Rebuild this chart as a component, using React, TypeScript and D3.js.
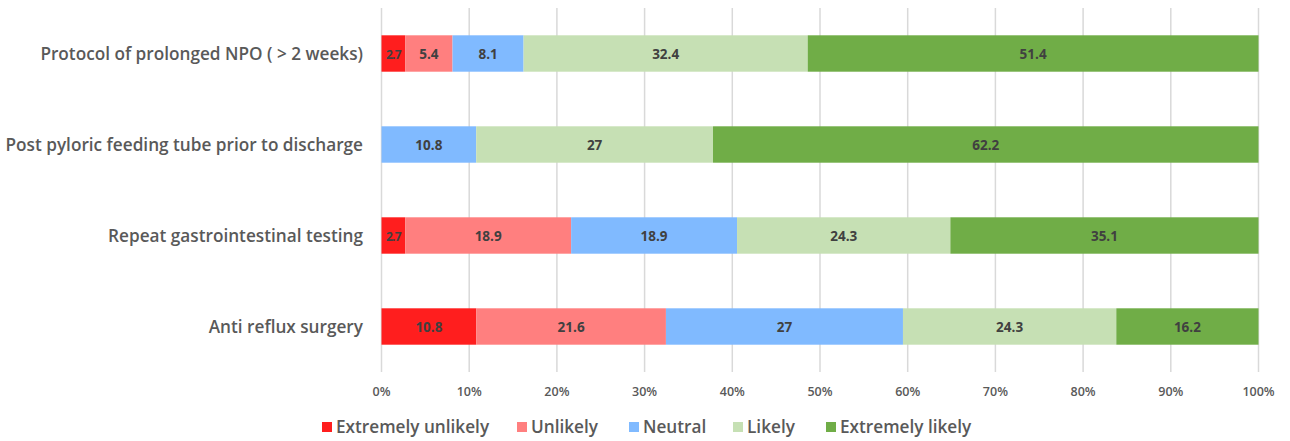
import React from "react";
import * as d3 from "d3";

const categories = [
  "Protocol of prolonged NPO ( > 2 weeks)",
  "Post pyloric feeding tube prior to discharge",
  "Repeat gastrointestinal testing",
  "Anti reflux surgery",
];
const seriesNames = ["Extremely unlikely", "Unlikely", "Neutral", "Likely", "Extremely likely"];
const extremelyUnlikely = [2.7, 0, 2.7, 10.8];
const unlikely = [5.4, 0, 18.9, 21.6];
const neutral = [8.1, 10.8, 18.9, 27];
const likely = [32.4, 27, 24.3, 24.3];
const extremelyLikely = [51.4, 62.2, 35.1, 16.2];
const xTicks = [0, 0.1, 0.2, 0.3, 0.4, 0.5, 0.6, 0.7, 0.8, 0.9, 1];

const colors = ["#FF1E1E", "#FF7F7F", "#80BAFF", "#C6E0B4", "#70AD47"];

const W = 1290;
const H = 441;
const FONT = "'Open Sans', Lato, sans-serif";

export default function App() {
  const seriesValues = [extremelyUnlikely, unlikely, neutral, likely, extremelyLikely];
  const rows = categories.map((c, i) => {
    const r: Record<string, any> = { category: c };
    seriesNames.forEach((s, j) => (r[s] = seriesValues[j][i]));
    return r;
  });
  const stacked = d3.stack<any>().keys(seriesNames).offset(d3.stackOffsetExpand)(rows);

  const x = d3.scaleLinear().domain([0, 1]).range([381.5, 1258.5]);
  const y = d3.scaleBand().domain(categories).range([8, 372]).paddingInner(0.6).paddingOuter(0.3);

  const legendX = [322, 517, 629, 733, 826];

  return (
    <svg width={W} height={H} style={{ position: "absolute", left: 0, top: 0, background: "#fff" }} fontFamily={FONT}>
      {xTicks.map((t) => (
        <g key={t}>
          <line x1={x(t)} x2={x(t)} y1={8} y2={372} stroke="#D9D9D9" strokeWidth={1.5} />
          <text x={x(t)} y={396} textAnchor="middle" fontSize={12.5} fill="#595959" fontWeight={600}>
            {d3.format(".0%")(t)}
          </text>
        </g>
      ))}
      {stacked.map((s, j) => (
        <g key={s.key} fill={colors[j]}>
          {s.map((d, i) => {
            const v = seriesValues[j][i];
            if (!v) return null;
            const x0 = x(d[0]);
            const x1 = x(d[1]);
            const yy = y(categories[i])!;
            const narrow = x1 - x0 < 30;
            return (
              <g key={i}>
                <rect x={x0} y={yy} width={x1 - x0} height={y.bandwidth()} />
                <text
                  x={(x0 + x1) / 2}
                  y={yy + y.bandwidth() / 2 + 5}
                  textAnchor="middle"
                  fontSize={narrow ? 12 : 13.5}
                  fontWeight={700}
                  fill="#404040"
                  letterSpacing={narrow ? -0.8 : 0}
                >
                  {v}
                </text>
              </g>
            );
          })}
        </g>
      ))}
      {categories.map((c) => (
        <text
          key={c}
          x={363}
          y={y(c)! + y.bandwidth() / 2 + 6}
          textAnchor="end"
          fontSize={17.2}
          fontWeight={600}
          fill="#595959"
        >
          {c}
        </text>
      ))}
      {seriesNames.map((s, j) => (
        <g key={s} transform={`translate(${legendX[j]},433)`}>
          <rect x={0} y={-11} width={10} height={10} fill={colors[j]} />
          <text x={14} y={0} fontSize={17.2} fontWeight={600} fill="#595959">
            {s}
          </text>
        </g>
      ))}
    </svg>
  );
}
